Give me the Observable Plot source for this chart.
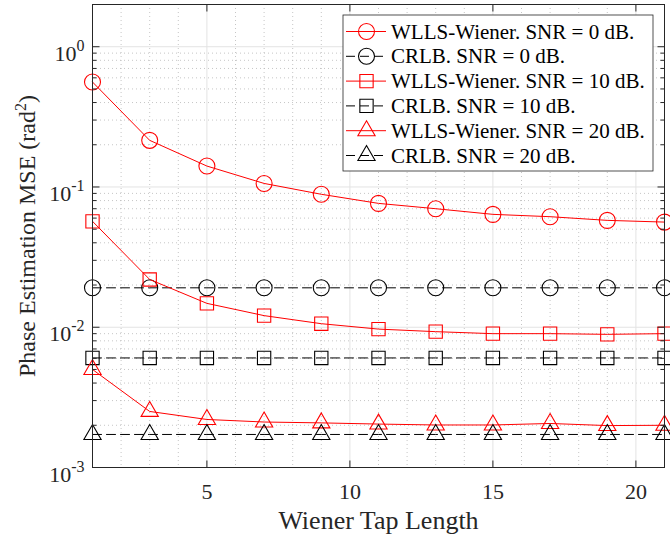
<!DOCTYPE html>
<html><head><meta charset="utf-8">
<script src="https://cdn.jsdelivr.net/npm/d3@7"></script>
<script src="https://cdn.jsdelivr.net/npm/@observablehq/plot@0.6"></script>
<style>
html,body{margin:0;padding:0;background:#fff}
#chart{width:670px;height:537px;position:relative}
</style>
</head><body><div id="chart"></div>
<script>
// ---- data ----
const taps = [1, 3, 5, 7, 9, 11, 13, 15, 17, 19, 21];
const wlls0  = [0.56, 0.215, 0.141, 0.106, 0.0887, 0.0764, 0.070, 0.0638, 0.0614, 0.0578, 0.0562];
const crlb0  = [0.0191, 0.0191, 0.0191, 0.0191, 0.0191, 0.0191, 0.0191, 0.0191, 0.0191, 0.0191, 0.0191];
const wlls10 = [0.0569, 0.0219, 0.0148, 0.0121, 0.0106, 0.0097, 0.0093, 0.0090, 0.0090, 0.0089, 0.0090];
const crlb10 = [0.00604, 0.00604, 0.00604, 0.00604, 0.00604, 0.00604, 0.00604, 0.00604, 0.00604, 0.00604, 0.00604];
const wlls20 = [0.0050, 0.00251, 0.0022, 0.00211, 0.00208, 0.00204, 0.00201, 0.00201, 0.00206, 0.00199, 0.00200];
const crlb20 = [0.00172, 0.00172, 0.00172, 0.00172, 0.00172, 0.00172, 0.00172, 0.00172, 0.00172, 0.00172, 0.00172];
const seriesNames = [
  "WLLS-Wiener. SNR = 0 dB.", "CRLB. SNR = 0 dB.",
  "WLLS-Wiener. SNR = 10 dB.", "CRLB. SNR = 10 dB.",
  "WLLS-Wiener. SNR = 20 dB.", "CRLB. SNR = 20 dB."
];
const xTicks = [5, 10, 15, 20];
const xMinor = [2, 3, 4, 6, 7, 8, 9, 11, 12, 13, 14, 16, 17, 18, 19];
const yMajor = [0.001, 0.01, 0.1, 1];
const yTickLabels = ["10^-3", "10^-2", "10^-1", "10^0"];
const yMinor = [0.002,0.003,0.004,0.005,0.006,0.007,0.008,0.009,
                0.02,0.03,0.04,0.05,0.06,0.07,0.08,0.09,
                0.2,0.3,0.4,0.5,0.6,0.7,0.8,0.9,2];
const xLabel = "Wiener Tap Length";
const yLabel = "Phase Estimation MSE (rad^2)";

// ---- styling ----
const RED = "#ff0000", BLACK = "#000000", AXIS = "#262626";
const FONT = "'Liberation Serif', 'Times New Roman', serif";
const seriesValues = [wlls0, crlb0, wlls10, crlb10, wlls20, crlb20];
const seriesStyle = [
  {stroke: RED, dash: null, symbol: "circle", r: 8},
  {stroke: BLACK, dash: "9,5", symbol: "circle", r: 8},
  {stroke: RED, dash: null, symbol: "square", r: 7.5},
  {stroke: BLACK, dash: "9,5", symbol: "square", r: 7.5},
  {stroke: RED, dash: null, symbol: "triangle", r: 6.4},
  {stroke: BLACK, dash: "9,5", symbol: "triangle", r: 6.4}
];

const tickSym = (dx, dy) => ({draw(ctx) { ctx.moveTo(0, 0); ctx.lineTo(dx, dy); }});

const marks = [
  // grids
  Plot.ruleX(xMinor, {x: d => d, stroke: "#b8b8b8", strokeDasharray: "1,3", strokeWidth: 0.8}),
  Plot.ruleY(yMinor, {y: d => d, stroke: "#b8b8b8", strokeDasharray: "1,3", strokeWidth: 0.8}),
  Plot.ruleX(xTicks, {x: d => d, stroke: "#e3e3e3", strokeWidth: 1}),
  Plot.ruleY(yMajor, {y: d => d, stroke: "#e3e3e3", strokeWidth: 1}),
];

seriesValues.forEach((vals, k) => {
  const rows = taps.map((x, i) => ({x, y: vals[i]}));
  const s = seriesStyle[k];
  marks.push(Plot.line(rows, {x: "x", y: "y", stroke: s.stroke, strokeWidth: 1, strokeDasharray: s.dash}));
  marks.push(Plot.dot(rows, {x: "x", y: "y", stroke: s.stroke, fill: "none", strokeWidth: 1.1, symbol: s.symbol, r: s.r}));
});

marks.push(
  // inward ticks
  Plot.dot(yMajor, {y: d => d, frameAnchor: "left", symbol: tickSym(7, 0), stroke: AXIS, fill: "none", strokeWidth: 1}),
  Plot.dot(yMajor, {y: d => d, frameAnchor: "right", symbol: tickSym(-7, 0), stroke: AXIS, fill: "none", strokeWidth: 1}),
  Plot.dot(yMinor, {y: d => d, frameAnchor: "left", symbol: tickSym(4, 0), stroke: AXIS, fill: "none", strokeWidth: 1}),
  Plot.dot(yMinor, {y: d => d, frameAnchor: "right", symbol: tickSym(-4, 0), stroke: AXIS, fill: "none", strokeWidth: 1}),
  Plot.dot(xTicks, {x: d => d, frameAnchor: "bottom", symbol: tickSym(0, -7), stroke: AXIS, fill: "none", strokeWidth: 1}),
  Plot.dot(xTicks, {x: d => d, frameAnchor: "top", symbol: tickSym(0, 7), stroke: AXIS, fill: "none", strokeWidth: 1}),
  Plot.frame({stroke: AXIS, strokeWidth: 1}),
  // tick labels
  Plot.text(xTicks, {x: d => d, frameAnchor: "bottom", dy: 24, text: d => String(d), fontSize: 22, fill: AXIS, textAnchor: "middle", lineAnchor: "middle"}),
  Plot.text(yMajor, {y: d => d, frameAnchor: "left", dx: -8, dy: 14, text: (d, i) => yTickLabels[i], textAnchor: "end", lineAnchor: "bottom", fontSize: 22, fill: AXIS}),
  // axis labels
  Plot.text([xLabel], {frameAnchor: "bottom", dy: 53, text: d => d, fontSize: 26, fill: AXIS, textAnchor: "middle", lineAnchor: "middle"}),
  Plot.text([yLabel], {frameAnchor: "left", dx: -65, text: d => d, fontSize: 24, fill: AXIS, rotate: -90, textAnchor: "middle", lineAnchor: "middle"})
);

const plot = Plot.plot({
  width: 670,
  height: 537,
  marginLeft: 92,
  marginRight: 6,
  marginTop: 4,
  marginBottom: 70,
  style: {fontFamily: FONT, background: "#fff", overflow: "visible"},
  x: {domain: [1, 21], axis: null},
  y: {type: "log", domain: [0.001, 2], axis: null},
  marks
});
document.getElementById("chart").appendChild(plot);

const svg = d3.select(plot);
// superscripts (text containing "^")
svg.selectAll("text").each(function () {
  const t = this.textContent;
  const m = t.match(/^(.*)\^(-?\d)(.*)$/);
  if (!m) return;
  const big = +this.getAttribute("font-size") || parseFloat(getComputedStyle(this).fontSize) || 22;
  const isLabel = big >= 24;
  this.textContent = m[1];
  d3.select(this).append("tspan").attr("dy", isLabel ? -9 : -10).attr("font-size", 16).text(m[2]);
  if (m[3]) d3.select(this).append("tspan").attr("dy", isLabel ? 9 : 10).attr("font-size", big).text(m[3]);
});

// legend
const L = {x: 343, y: 15, w: 310, h: 156, row: 24.8, first: 31.5};
const lg = svg.append("g").attr("class", "legend").attr("text-anchor", "start");
lg.append("rect").attr("x", L.x).attr("y", L.y).attr("width", L.w).attr("height", L.h)
  .attr("fill", "#fff").attr("stroke", AXIS).attr("stroke-width", 0.8);
const symMap = {circle: d3.symbolCircle, square: d3.symbolSquare, triangle: d3.symbolTriangle};
seriesNames.forEach((name, k) => {
  const s = seriesStyle[k];
  const cy = L.first + k * L.row;
  lg.append("line").attr("x1", L.x + 3).attr("x2", L.x + 43).attr("y1", cy).attr("y2", cy)
    .attr("stroke", s.stroke).attr("stroke-width", 1).attr("stroke-dasharray", s.dash);
  lg.append("path").attr("transform", `translate(${L.x + 23.5},${cy})`)
    .attr("d", d3.symbol(symMap[s.symbol], Math.PI * s.r * s.r)())
    .attr("fill", "none").attr("stroke", s.stroke).attr("stroke-width", 1.1);
  lg.append("text").attr("x", L.x + 48).attr("y", cy).attr("dy", "0.34em")
    .attr("text-anchor", "start")
    .attr("font-size", 21).attr("fill", "#000").attr("font-family", FONT).text(name);
});
</script>
</body></html>
